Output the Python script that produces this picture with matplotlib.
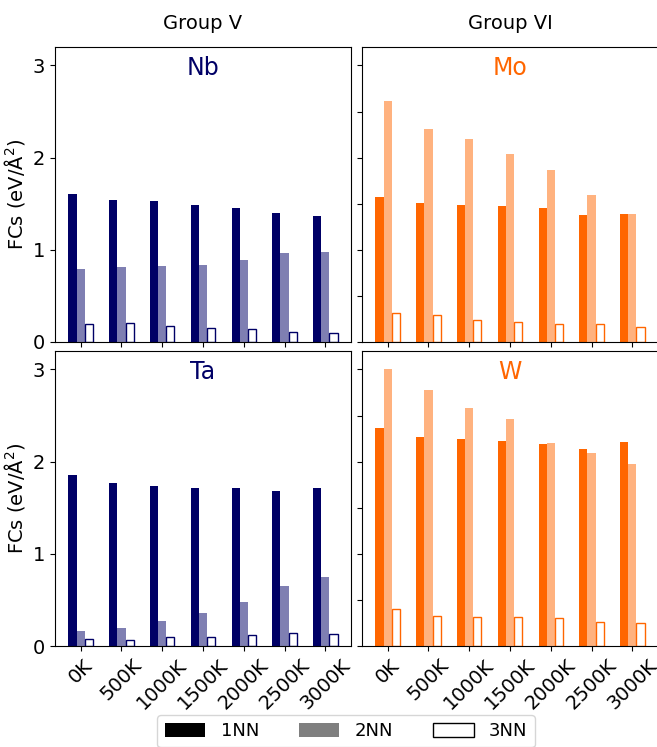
import matplotlib
matplotlib.use("Agg")
import matplotlib.pyplot as plt
import numpy as np
from matplotlib.patches import Patch

temps = ["0K", "500K", "1000K", "1500K", "2000K", "2500K", "3000K"]

nb_1nn = [1.61, 1.54, 1.53, 1.49, 1.45, 1.40, 1.37]
nb_2nn = [0.79, 0.81, 0.82, 0.84, 0.89, 0.97, 0.98]
nb_3nn = [0.20, 0.21, 0.17, 0.15, 0.14, 0.11, 0.10]

mo_1nn = [1.57, 1.51, 1.49, 1.48, 1.45, 1.38, 1.39]
mo_2nn = [2.61, 2.31, 2.20, 2.04, 1.87, 1.59, 1.39]
mo_3nn = [0.31, 0.29, 0.24, 0.22, 0.20, 0.19, 0.16]

ta_1nn = [1.86, 1.77, 1.74, 1.71, 1.71, 1.68, 1.71]
ta_2nn = [0.16, 0.20, 0.27, 0.36, 0.48, 0.65, 0.75]
ta_3nn = [0.08, 0.07, 0.10, 0.10, 0.12, 0.14, 0.13]

w_1nn = [2.36, 2.27, 2.24, 2.22, 2.19, 2.14, 2.21]
w_2nn = [3.00, 2.78, 2.58, 2.46, 2.20, 2.09, 1.97]
w_3nn = [0.40, 0.33, 0.31, 0.32, 0.30, 0.26, 0.25]

NAVY = "#000066"
ORANGE = "#ff6600"
W, H = 657, 747

fig = plt.figure(figsize=(W / 100, H / 100), dpi=100)


def box(x0, y0, x1, y1):
    return [x0 / W, 1 - y1 / H, (x1 - x0) / W, (y1 - y0) / H]


panels = [
    (box(55, 47, 351, 342), "Nb", NAVY, nb_1nn, nb_2nn, nb_3nn, True, False),
    (box(362, 47, 658, 342), "Mo", ORANGE, mo_1nn, mo_2nn, mo_3nn, False, False),
    (box(55, 351, 351, 646), "Ta", NAVY, ta_1nn, ta_2nn, ta_3nn, True, True),
    (box(362, 351, 658, 646), "W", ORANGE, w_1nn, w_2nn, w_3nn, False, True),
]

x = np.arange(len(temps))
bw = 0.2
axes = []
for rect, name, col, v1, v2, v3, left, bottom in panels:
    ax = fig.add_axes(rect)
    ax.bar(x - bw, v1, bw, color=col)
    ax.bar(x, v2, bw, color=col, alpha=0.5)
    ax.bar(x + bw, v3, bw, facecolor="white", edgecolor=col, lw=1)
    ax.set_ylim(0, 3.2)
    ax.set_xticks(x)
    ax.text(0.5, 0.93, name, transform=ax.transAxes, ha="center", va="center",
            fontsize=17, color=col)
    if left:
        ax.set_yticks([0, 1, 2, 3])
        ax.set_ylabel(r"FCs (eV/Å$^2$)", fontsize=14)
    else:
        ax.set_yticks(np.arange(0, 3.01, 0.5))
        ax.set_yticklabels([])
    if bottom:
        ax.set_xticklabels(temps, rotation=45, fontsize=14)
    else:
        ax.set_xticklabels([])
    ax.tick_params(labelsize=14)
    axes.append(ax)

axes[0].text(0.5, 1.08, "Group V", transform=axes[0].transAxes, ha="center",
             va="center", fontsize=14)
axes[1].text(0.5, 1.08, "Group VI", transform=axes[1].transAxes, ha="center",
             va="center", fontsize=14)

handles = [Patch(facecolor="black"),
           Patch(facecolor="black", alpha=0.5),
           Patch(facecolor="white", edgecolor="black")]
fig.legend(handles, ["1NN", "2NN", "3NN"], loc="upper center",
           bbox_to_anchor=(346 / W, 1 - 715 / H), ncol=3, fontsize=13,
           handlelength=2.25, handleheight=0.8, handletextpad=0.85,
           columnspacing=2.2, borderaxespad=0)

fig.savefig("out.png", dpi=100)
